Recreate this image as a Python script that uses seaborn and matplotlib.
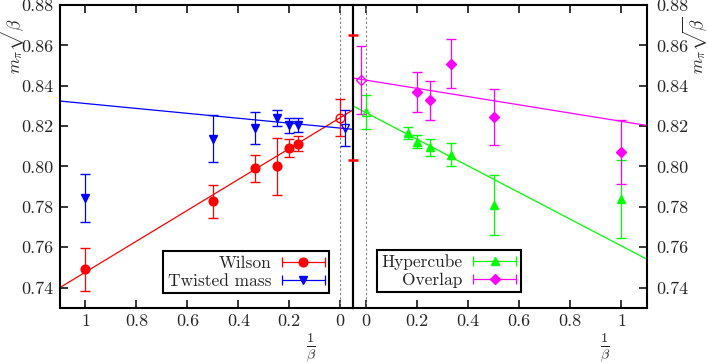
import numpy as np
import matplotlib
matplotlib.use('Agg')
import matplotlib.pyplot as plt
import seaborn as sns
from matplotlib.container import ErrorbarContainer
from matplotlib.lines import Line2D
from matplotlib.collections import LineCollection
from matplotlib.legend_handler import HandlerErrorbar

# ---- data ----
wilson_x = [1.0, 0.5, 1 / 3, 0.25, 0.2, 1 / 6]
wilson_y = [0.7491, 0.7827, 0.7990, 0.8000, 0.8090, 0.8113]
wilson_err = [0.0107, 0.0082, 0.0066, 0.0143, 0.0044, 0.0036]

tm_x = [1.0, 0.5, 1 / 3, 0.25, 0.2, 1 / 6]
tm_y = [0.7846, 0.8138, 0.8192, 0.8241, 0.8204, 0.8204]
tm_err = [0.0119, 0.0117, 0.0080, 0.0039, 0.0037, 0.0034]

hc_x = [1 / 6, 0.2, 0.25, 1 / 3, 0.5, 1.0]
hc_y = [0.8166, 0.8122, 0.8094, 0.8057, 0.7810, 0.7838]
hc_err = [0.0029, 0.0033, 0.0040, 0.0057, 0.0150, 0.0193]

ov_x = [0.2, 0.25, 1 / 3, 0.5, 1.0]
ov_y = [0.8368, 0.8327, 0.8510, 0.8245, 0.8072]
ov_err = [0.0098, 0.0097, 0.0121, 0.0141, 0.0158]

# continuum extrapolations
wilson_cont = (0.0, 0.8242, 0.0093)
tm_cont = (-0.02, 0.8190, 0.0090)
hc_cont = (0.0, 0.8270, 0.0083)
ov_cont = (-0.02, 0.8428, 0.0170)
wilson_edge = (-0.05, 0.8340, 0.0310)

# fit lines (end points)
wilson_fit_x = [1.1, -0.05]
wilson_fit_y = [0.7400, 0.8280]
tm_fit_x = [1.1, -0.05]
tm_fit_y = [0.8324, 0.8184]
hc_fit_x = [-0.05, 1.1]
hc_fit_y = [0.8300, 0.7540]
ov_fit_x = [-0.05, 1.1]
ov_fit_y = [0.8438, 0.8203]

xticks = [0, 0.2, 0.4, 0.6, 0.8, 1.0]
xticklabels = ['0', '0.2', '0.4', '0.6', '0.8', '1']
yticks = [0.74, 0.76, 0.78, 0.80, 0.82, 0.84, 0.86, 0.88]

RED, BLUE, GREEN, MAG = '#ff0000', '#0000ff', '#00ff00', '#ff00ff'

sns.set_style('ticks')
plt.rcParams['font.family'] = ['cmr10', 'DejaVu Serif']
plt.rcParams['mathtext.fontset'] = 'cm'
plt.rcParams['axes.unicode_minus'] = False
plt.rcParams['axes.formatter.use_mathtext'] = True

CAP = 3.8
ELW = 0.9
MS_CIRC, MS_TRI, MS_DIA = 6.3, 6.3, 4.8


def points(ax, x, y, err, color, marker, ms, open_face=False):
    ax.errorbar(x, y, yerr=err, fmt=marker, color=color, ms=ms,
                mfc='none' if open_face else color, mec=color, mew=1.0,
                elinewidth=ELW, capsize=CAP, capthick=ELW, zorder=3)


def proxy(color, marker, ms, label):
    line = Line2D([], [], color=color, marker=marker, ls='none', ms=ms)
    cap = Line2D([], [], color=color, marker='|', ls='none', ms=2 * CAP, mew=ELW)
    bar = LineCollection([], colors=color, linewidths=ELW)
    return ErrorbarContainer((line, (cap, cap), (bar,)), has_xerr=True,
                             has_yerr=False, label=label)


def style_axis(ax, side):
    ax.set_ylim(0.73, 0.88)
    ax.set_yticks(yticks)
    ax.set_yticklabels(['%.2f' % v for v in yticks])
    ax.set_xticks(xticks)
    ax.set_xticklabels(xticklabels)
    for s in ax.spines.values():
        s.set_linewidth(1.5)
        s.set_color('black')
    ax.tick_params(axis='x', direction='in', length=5.5, width=1.3,
                   top=True, bottom=True, labelsize=13, pad=4)
    if side == 'left':
        ax.tick_params(axis='y', direction='in', length=5.5, width=1.3,
                       left=True, right=False, labelleft=True, labelright=False,
                       labelsize=13, pad=5)
    else:
        ax.tick_params(axis='y', direction='in', length=5.5, width=1.3,
                       left=False, right=True, labelleft=False, labelright=True,
                       labelsize=13, pad=6.5)
    ax.axvline(0, color='gray', ls=(0, (2, 2)), lw=0.8, zorder=1)
    ax.grid(False)


fig = plt.figure(figsize=(7.08, 3.63), dpi=100)
bottom = 1 - 307.7 / 363
height = 302.7 / 363
ax1 = fig.add_axes([60 / 708, bottom, 293 / 708, height])
ax2 = fig.add_axes([353 / 708, bottom, 294 / 708, height])
ax2.patch.set_visible(False)

# left panel: Wilson / twisted mass, 1/beta decreasing to the right
ax1.set_xlim(1.1, -0.05)
sns.lineplot(x=wilson_fit_x, y=wilson_fit_y, color=RED, lw=0.9, ax=ax1, sort=False)
sns.lineplot(x=tm_fit_x, y=tm_fit_y, color=BLUE, lw=0.9, ax=ax1, sort=False)
points(ax1, wilson_x, wilson_y, wilson_err, RED, 'o', MS_CIRC)
points(ax1, tm_x, tm_y, tm_err, BLUE, 'v', MS_TRI)
points(ax1, [wilson_cont[0]], [wilson_cont[1]], [wilson_cont[2]], RED, 'o', MS_CIRC, True)
points(ax1, [tm_cont[0]], [tm_cont[1]], [tm_cont[2]], BLUE, 'v', MS_TRI, True)

# right panel: hypercube / overlap
ax2.set_xlim(-0.05, 1.1)
sns.lineplot(x=hc_fit_x, y=hc_fit_y, color=GREEN, lw=0.9, ax=ax2, sort=False)
sns.lineplot(x=ov_fit_x, y=ov_fit_y, color=MAG, lw=0.9, ax=ax2, sort=False)
points(ax2, hc_x, hc_y, hc_err, GREEN, '^', MS_TRI)
points(ax2, ov_x, ov_y, ov_err, MAG, 'D', MS_DIA)
points(ax2, [hc_cont[0]], [hc_cont[1]], [hc_cont[2]], GREEN, '^', MS_TRI, True)
points(ax2, [ov_cont[0]], [ov_cont[1]], [ov_cont[2]], MAG, 'D', MS_DIA, True)
# error bar sitting on the panel border: only its caps show above the frame
ax2.errorbar([wilson_edge[0]], [wilson_edge[1]], yerr=[wilson_edge[2]], fmt='none',
             ecolor=RED, elinewidth=0, capsize=CAP, capthick=1.8, zorder=4, clip_on=False)

style_axis(ax1, 'left')
style_axis(ax2, 'right')

ylab = r'$m_\pi\sqrt{\beta}$'
ax1.set_ylabel(ylab, fontsize=12.5, va='center')
ax1.yaxis.set_label_coords(-0.162, 0.868)
ax2.yaxis.set_label_position('right')
ax2.set_ylabel(ylab, fontsize=12.5, va='center', rotation=90)
ax2.yaxis.set_label_coords(1.166, 0.868)

ax1.set_xlabel(r'$\frac{1}{\beta}$', fontsize=14.5, va='center')
ax1.xaxis.set_label_coords(0.856, -0.132)
ax2.set_xlabel(r'$\frac{1}{\beta}$', fontsize=14.5, va='center')
ax2.xaxis.set_label_coords(0.856, -0.132)

hmap = {ErrorbarContainer: HandlerErrorbar(xerr_size=1.24)}
leg_kw = dict(fontsize=12.5, markerfirst=False, handlelength=2.5, handletextpad=0.6,
              borderpad=0.25, labelspacing=0.15, borderaxespad=0, fancybox=False,
              framealpha=1, edgecolor='black', handler_map=hmap)
leg1 = ax1.legend(handles=[proxy(RED, 'o', MS_CIRC, 'Wilson'),
                           proxy(BLUE, 'v', MS_TRI, 'Twisted mass')],
                  loc='lower right', bbox_to_anchor=(0.919, 0.048), **leg_kw)
leg2 = ax2.legend(handles=[proxy(GREEN, '^', MS_TRI, 'Hypercube'),
                           proxy(MAG, 'D', MS_DIA, 'Overlap')],
                  loc='lower left', bbox_to_anchor=(0.082, 0.052), **leg_kw)
for leg in (leg1, leg2):
    leg.get_frame().set_linewidth(1.5)
    leg.get_frame().set_boxstyle('square', pad=0)

fig.savefig('out.png', dpi=100)
